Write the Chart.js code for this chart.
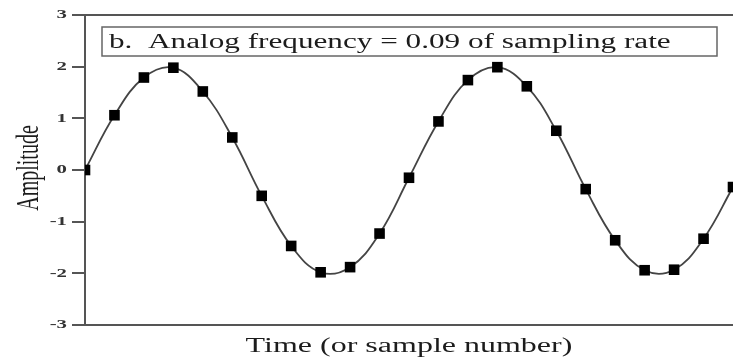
<!DOCTYPE html>
<html>
<head>
<meta charset="utf-8">
<title>Analog frequency = 0.09 of sampling rate</title>
<script src="https://cdn.jsdelivr.net/npm/chart.js@4"></script>
<style>
  html, body { margin: 0; padding: 0; background: #fff; overflow: hidden; }
  #wrap { width: 733px; height: 358px; }
</style>
</head>
<body>
<div id="wrap"><canvas id="chart" width="733" height="358"></canvas></div>
<script>
const sampleNumbers = [0, 1, 2, 3, 4, 5, 6, 7, 8, 9, 10, 11, 12, 13, 14, 15, 16, 17, 18, 19, 20, 21, 22];
const sampleValues = [0, 1.06, 1.79, 1.98, 1.52, 0.63, -0.50, -1.47, -1.98, -1.88, -1.23, -0.15, 0.94, 1.74, 1.99, 1.62, 0.76, -0.37, -1.36, -1.94, -1.93, -1.33, -0.33];
const yTicks = [-3, -2, -1, 0, 1, 2, 3];

const boxText = 'b.  Analog frequency = 0.09 of sampling rate';
const xTitle = 'Time (or sample number)';
const yTitle = 'Amplitude';

const serif = '"Liberation Serif", "DejaVu Serif", serif';
const axisColor = '#555';
const textColor = '#1c1c1c';

// the source picture is stretched sideways, so text gets the same stretch
function stretchedText(ctx, text, x, y, sx, rotate) {
  ctx.save();
  ctx.translate(x, y);
  ctx.scale(sx, 1);
  if (rotate) ctx.rotate(-Math.PI / 2);
  ctx.fillText(text, 0, 0);
  ctx.restore();
}

const framePlugin = {
  id: 'frame',
  afterDraw(chart) {
    const ctx = chart.ctx;
    const area = chart.chartArea;
    const yScale = chart.scales.y;

    // top border
    ctx.save();
    ctx.strokeStyle = axisColor;
    ctx.lineWidth = 2;
    ctx.beginPath();
    ctx.moveTo(area.left, area.top);
    ctx.lineTo(area.right, area.top);
    ctx.stroke();

    // y tick labels, placed by the y scale
    ctx.fillStyle = '#333';
    ctx.font = 'bold 13px ' + serif;
    ctx.textAlign = 'right';
    ctx.textBaseline = 'middle';
    yScale.ticks.forEach(t => {
      stretchedText(ctx, String(t.value), area.left - 18, yScale.getPixelForValue(t.value), 1.6, false);
    });

    // label box
    ctx.strokeStyle = '#666';
    ctx.lineWidth = 1.5;
    ctx.fillStyle = '#fff';
    ctx.fillRect(102, 27, 615, 29);
    ctx.strokeRect(102, 27, 615, 29);

    ctx.fillStyle = textColor;
    ctx.font = '20px ' + serif;
    ctx.textBaseline = 'alphabetic';
    ctx.textAlign = 'left';
    stretchedText(ctx, boxText, 109, 48, 1.56, false);

    // axis titles
    ctx.textAlign = 'center';
    stretchedText(ctx, xTitle, (area.left + area.right) / 2, 352, 1.6, false);
    ctx.textBaseline = 'middle';
    stretchedText(ctx, yTitle, 30, 168, 1.6, true);
    ctx.restore();
  }
};

new Chart(document.getElementById('chart'), {
  type: 'line',
  data: {
    datasets: [{
      data: sampleNumbers.map((n, i) => ({ x: n, y: sampleValues[i] })),
      borderColor: '#444',
      borderWidth: 1.8,
      tension: 0.4,
      pointStyle: 'rect',
      pointRadius: 7.5,
      pointBackgroundColor: '#000',
      pointBorderColor: '#000',
      pointBorderWidth: 0,
      fill: false
    }]
  },
  options: {
    responsive: false,
    animation: false,
    events: [],
    layout: { autoPadding: false, padding: { left: 0, right: 0, top: 15, bottom: 0 } },
    plugins: {
      legend: { display: false },
      tooltip: { enabled: false }
    },
    scales: {
      x: {
        type: 'linear',
        min: 0,
        max: 22,
        ticks: { display: false },
        grid: { drawOnChartArea: false, drawTicks: false },
        border: { color: axisColor, width: 2 },
        afterFit: scale => { scale.height = 33; }
      },
      y: {
        min: -3,
        max: 3,
        afterBuildTicks: scale => { scale.ticks = yTicks.map(v => ({ value: v })); },
        ticks: { display: false },
        grid: { drawOnChartArea: false, tickLength: 13, color: axisColor, lineWidth: 2 },
        border: { color: axisColor, width: 2 },
        afterFit: scale => { scale.width = 85; }
      }
    }
  },
  plugins: [framePlugin]
});
</script>
</body>
</html>
